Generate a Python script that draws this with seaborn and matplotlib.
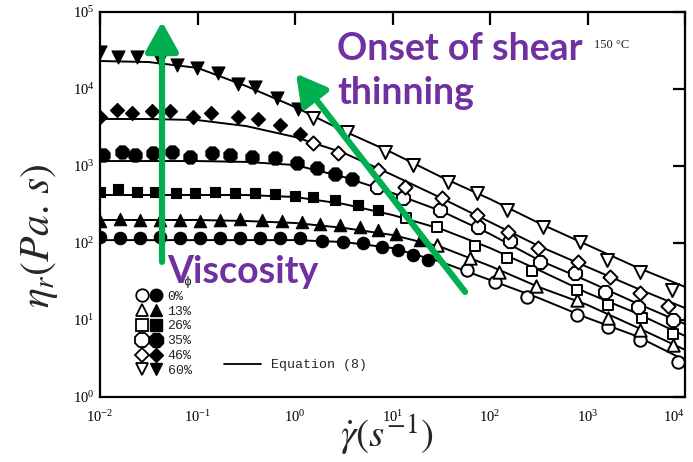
import matplotlib
matplotlib.use("Agg")
import matplotlib.pyplot as plt
import seaborn as sns
from matplotlib.lines import Line2D
from matplotlib.legend_handler import HandlerTuple
from matplotlib.font_manager import FontProperties

sns.set_style("white")
plt.rcParams["font.family"] = ["Liberation Serif", "DejaVu Serif"]

# ---- Equation (8) curves, sampled every half decade of shear rate ----
fit_shear = [0.01, 0.0316, 0.1, 0.316, 1, 3.16, 10, 31.6, 100, 316, 1000, 3160, 10000]
fit_0 = [109, 109, 109, 109, 109, 103, 86, 56.7, 33.1, 19.3, 10.6, 6.2, 3.0]
fit_13 = [199, 199, 199, 193, 182, 157, 127, 88.7, 50.3, 26.8, 15.7, 8.1, 4.1]
fit_26 = [420, 420, 420, 420, 396, 321, 231, 152, 86.1, 44.6, 22.4, 12.3, 6.2]
fit_35 = [1160, 1160, 1160, 1130, 1030, 720, 446, 260, 131, 60.1, 32.1, 16.6, 8.87]
fit_46 = [4080, 4080, 3950, 3300, 2380, 1480, 764, 384, 187, 91.4, 48.7, 26.0, 14.3]
fit_60 = [23100, 22400, 18800, 10900, 5840, 2850, 1480, 720, 372, 182, 94, 48.7, 26.9]

# ---- measured viscosities: low-rate (filled) and high-rate (open) data ----
low_shear_0 = [0.0100, 0.0160, 0.0257, 0.0412, 0.0662, 0.106, 0.170, 0.273, 0.438,
               0.702, 1.12, 1.89, 3.10, 4.98, 7.80, 11.4, 16.2, 23.1]
low_eta_0 = [120, 116, 116, 120, 116, 116, 116, 116, 116, 116, 116, 106, 103, 100,
             88.7, 81.1, 69.8, 60.1]
high_shear_0 = [58.1, 112, 239, 780, 1620, 3450, 8470]
high_eta_0 = [44.6, 31.2, 19.9, 11.6, 8.1, 5.5, 2.85]

low_shear_13 = [0.0100, 0.0160, 0.0257, 0.0412, 0.0662, 0.106, 0.170, 0.273, 0.459,
                0.736, 1.18, 1.80, 2.90, 4.65, 7.10, 10.9, 19.1]
low_eta_13 = [193, 205, 199, 199, 199, 193, 199, 205, 199, 193, 187, 177, 171, 161,
              147, 131, 109]
high_shear_13 = [28.6, 62.4, 124, 296, 780, 1620, 3450, 7530]
high_eta_13 = [94.2, 63.8, 42.0, 27.7, 18.2, 10.6, 7.4, 4.7]

low_shear_26 = [0.0100, 0.0153, 0.0239, 0.0366, 0.0601, 0.0942, 0.151, 0.243, 0.389,
                0.624, 1.00, 1.53, 2.57, 4.43, 7.10]
low_eta_26 = [459, 503, 459, 459, 446, 446, 459, 446, 446, 433, 408, 396, 361, 312, 268]
high_shear_26 = [13.7, 28.6, 70.2, 149, 270, 780, 1620, 3620, 7530]
high_eta_26 = [211, 161, 91.4, 63.8, 43.3, 24.5, 15.7, 10.6, 6.6]

low_shear_35 = [0.0107, 0.0168, 0.0229, 0.0350, 0.0547, 0.0838, 0.141, 0.215, 0.362,
                0.624, 1.05, 1.68, 2.57, 3.85]
low_eta_35 = [1390, 1520, 1390, 1480, 1520, 1310, 1480, 1390, 1310, 1270, 1090, 942,
              787, 678]
high_shear_35 = [6.93, 12.8, 30.7, 75.3, 160, 326, 745, 1510, 3300, 7530]
high_eta_35 = [534, 384, 268, 161, 105, 56.7, 40.8, 23.1, 14.8, 10]

low_shear_46 = [0.0100, 0.0149, 0.0213, 0.0341, 0.0522, 0.0899, 0.137, 0.260, 0.418,
                0.702, 1.12]
low_eta_46 = [4330, 5340, 4880, 5180, 5180, 4330, 4880, 4330, 4080, 3410, 2600]
high_shear_46 = [1.53, 2.76, 7.10, 13.4, 32.2, 73.6, 153, 310, 800, 1700, 3450, 6700]
high_eta_46 = [1990, 1480, 887, 534, 384, 231, 139, 86, 56.7, 36.2, 22.4, 15.2]

low_shear_60 = [0.0100, 0.0153, 0.0240, 0.0412, 0.0617, 0.0989, 0.162, 0.260, 0.389,
                0.653, 1.07]
low_eta_60 = [30300, 26100, 26100, 23800, 20500, 18800, 16100, 11600, 10600, 7640, 5500]
high_shear_60 = [1.53, 3.41, 8.38, 16.2, 37.1, 73.6, 149, 350, 837, 1580, 3450, 7360]
high_eta_60 = [4200, 2770, 1520, 1030, 620, 446, 268, 161, 103, 60, 42, 24.5]

labels = ["0%", "13%", "26%", "35%", "46%", "60%"]
markers = ["o", "^", "s", "8", "D", "v"]
sizes = [80, 80, 60, 105, 52, 88]
legend_ms = [9, 9, 8.5, 10.5, 7.5, 9]

fits = [fit_0, fit_13, fit_26, fit_35, fit_46, fit_60]
lows = [(low_shear_0, low_eta_0), (low_shear_13, low_eta_13), (low_shear_26, low_eta_26),
        (low_shear_35, low_eta_35), (low_shear_46, low_eta_46), (low_shear_60, low_eta_60)]
highs = [(high_shear_0, high_eta_0), (high_shear_13, high_eta_13),
         (high_shear_26, high_eta_26), (high_shear_35, high_eta_35),
         (high_shear_46, high_eta_46), (high_shear_60, high_eta_60)]

fig = plt.figure(figsize=(6.93, 4.62), dpi=100)
ax = fig.add_axes([0.1443, 0.1407, 0.8442, 0.8333])
ax.set_xscale("log")
ax.set_yscale("log")

for fit, (ls, le), (hs, he), m, s in zip(fits, lows, highs, markers, sizes):
    sns.lineplot(x=fit_shear, y=fit, ax=ax, color="black", lw=1.4, zorder=2)
    sns.scatterplot(x=ls, y=le, ax=ax, marker=m, s=s, color="black",
                    edgecolor="black", linewidth=0.8, zorder=3)
    sns.scatterplot(x=hs, y=he, ax=ax, marker=m, s=s, color="white",
                    edgecolor="black", linewidth=1.4, zorder=3)

ax.set_xlim(1e-2, 1e4)
ax.set_ylim(1e0, 1e5)
ax.set_xticks([1e-2, 1e-1, 1e0, 1e1, 1e2, 1e3, 1e4])
ax.set_yticks([1e0, 1e1, 1e2, 1e3, 1e4, 1e5])
ax.minorticks_off()
for sp in ax.spines.values():
    sp.set_linewidth(1.6)
    sp.set_color("black")
ax.tick_params(which="major", direction="in", length=9, width=1.6,
               top=True, right=True, labelsize=10.5, colors="black")
ax.tick_params(axis="x", pad=9)
ax.tick_params(axis="y", pad=4)
ax.get_xticklabels()[-1].set_horizontalalignment("right")

ax.set_ylabel(r"$\eta_r(Pa.\,s)$", fontsize=30, math_fontfamily="stix")
ax.yaxis.set_label_coords(-0.068, 0.42)
ax.set_xlabel(r"$\dot{\gamma}(s^{-1})$", fontsize=28, math_fontfamily="stix")
ax.xaxis.set_label_coords(0.49, -0.04)

# legend: open / filled symbol pairs per volume fraction
handles = [(Line2D([], [], marker=m, ls="none", mfc="white", mec="black", ms=ms, mew=1.3),
            Line2D([], [], marker=m, ls="none", color="black", ms=ms))
           for m, ms in zip(markers, legend_ms)]
leg = ax.legend(handles, labels, handler_map={tuple: HandlerTuple(ndivide=None, pad=0.2)},
                loc="upper left", bbox_to_anchor=(0.05, 0.332), frameon=False,
                prop=FontProperties(family="Liberation Mono", size=9.5),
                handlelength=2.0, handletextpad=0.4, labelspacing=0.2,
                borderpad=0.0, title="ϕ", alignment="right",
                title_fontproperties=FontProperties(family="Liberation Mono", size=9.5))
ax.add_artist(leg)
leg2 = ax.legend([Line2D([], [], color="black", lw=1.3)], ["Equation (8)"],
                 loc="lower left", bbox_to_anchor=(0.2, 0.05), frameon=False,
                 prop=FontProperties(family="Liberation Mono", size=9.5),
                 handlelength=2.8, handletextpad=0.8, borderpad=0.0)

ax.text(0.845, 0.914, "150 °C", transform=ax.transAxes, fontsize=9,
        color="#222222", ha="left", va="center")

green = "#00B050"
ax.annotate("", xy=(0.106, 0.975), xytext=(0.106, 0.351), xycoords="axes fraction",
            arrowprops=dict(arrowstyle="-|>,head_width=0.5,head_length=0.9",
                            color=green, lw=4.5, mutation_scale=20,
                            shrinkA=0, shrinkB=0), zorder=5)
ax.annotate("", xy=(0.335, 0.84), xytext=(0.624, 0.273), xycoords="axes fraction",
            arrowprops=dict(arrowstyle="-|>,head_width=0.5,head_length=0.9",
                            color=green, lw=4.5, mutation_scale=20,
                            shrinkA=0, shrinkB=0), zorder=5)

purple = "#7030A0"
fig.text(167 / 693, 1 - 283 / 462, "Viscosity", color=purple, fontsize=27,
         fontweight="bold", family="Lato", ha="left", va="baseline", zorder=6)
fig.text(337 / 693, 1 - 60 / 462, "Onset of shear", color=purple, fontsize=27,
         fontweight="bold", family="Lato", ha="left", va="baseline", zorder=6)
fig.text(337 / 693, 1 - 104 / 462, "thinning", color=purple, fontsize=27,
         fontweight="bold", family="Lato", ha="left", va="baseline", zorder=6)

fig.savefig("out.png", dpi=100, facecolor="white")
